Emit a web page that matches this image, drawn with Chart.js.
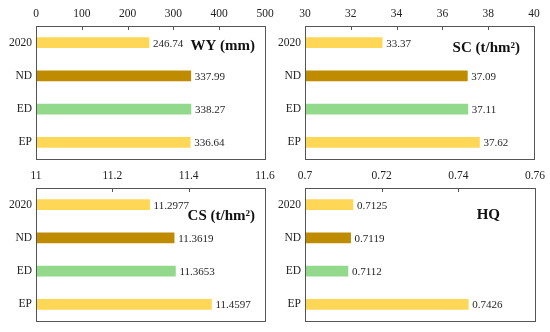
<!DOCTYPE html>
<html>
<head>
<meta charset="utf-8">
<script src="https://cdn.jsdelivr.net/npm/chart.js@4/dist/chart.umd.min.js"></script>
<style>
  html, body { margin: 0; padding: 0; background: #ffffff; }
  #wrap { position: relative; width: 550px; height: 332px; overflow: hidden; background: #fff; }
  canvas { position: absolute; }
</style>
</head>
<body>
<div id="wrap">
  <canvas id="c1" width="275" height="166" style="left:0;top:0"></canvas>
  <canvas id="c2" width="275" height="166" style="left:275px;top:0"></canvas>
  <canvas id="c3" width="275" height="166" style="left:0;top:166px"></canvas>
  <canvas id="c4" width="275" height="166" style="left:275px;top:166px"></canvas>
</div>
<script>
// ---- data ----
const categories = ['2020', 'ND', 'ED', 'EP'];

const wyValues = [246.74, 337.99, 338.27, 336.64];
const scValues = [33.37, 37.09, 37.11, 37.62];
const csValues = [11.2977, 11.3619, 11.3653, 11.4597];
const hqValues = [0.7125, 0.7119, 0.7112, 0.7426];

const wyLabels = ['246.74', '337.99', '338.27', '336.64'];
const scLabels = ['33.37', '37.09', '37.11', '37.62'];
const csLabels = ['11.2977', '11.3619', '11.3653', '11.4597'];
const hqLabels = ['0.7125', '0.7119', '0.7112', '0.7426'];

const wyTicks = ['0', '100', '200', '300', '400', '500'];
const scTicks = ['30', '32', '34', '36', '38', '40'];
const csTicks = ['11', '11.2', '11.4', '11.6'];
const hqTicks = ['0.7', '0.72', '0.74', '0.76'];

const wyTitle = 'WY (mm)';
const scTitle = 'SC (t/hm\u00B2)';
const csTitle = 'CS (t/hm\u00B2)';
const hqTitle = 'HQ';

// ---- styling ----
const barColors = ['#FFD757', '#BF8B00', '#93D98B', '#FFD757'];
const FONT = "'Liberation Serif', 'Times New Roman', serif";
const BORDER = '#555555';

const panelPlugin = {
  id: 'panelDeco',
  afterDraw(chart, args, opts) {
    const ctx = chart.ctx;
    const a = chart.chartArea;
    ctx.save();
    // frame
    ctx.strokeStyle = BORDER;
    ctx.lineWidth = 1;
    ctx.strokeRect(Math.round(a.left) + 0.5, Math.round(a.top) + 0.5,
                   Math.round(a.right - a.left), Math.round(a.bottom - a.top));
    // inner tick marks on top axis
    const xs = chart.scales.x;
    xs.ticks.forEach((t, i) => {
      if (i === 0 || i === xs.ticks.length - 1) return;
      const px = Math.round(xs.getPixelForValue(t.value)) + 0.5;
      ctx.beginPath();
      ctx.moveTo(px, a.top);
      ctx.lineTo(px, a.top + 4);
      ctx.stroke();
    });
    // value labels
    ctx.fillStyle = '#262626';
    ctx.font = '11px ' + FONT;
    ctx.textAlign = 'left';
    ctx.textBaseline = 'middle';
    const meta = chart.getDatasetMeta(0);
    meta.data.forEach((bar, i) => {
      ctx.fillText(opts.labels[i], bar.x + 4, bar.y + 1);
    });
    // panel title
    ctx.fillStyle = '#111111';
    ctx.font = 'bold 15px ' + FONT;
    ctx.textAlign = 'right';
    ctx.fillText(opts.title, a.right - opts.titleDx, a.top + opts.titleDy);
    ctx.restore();
  }
};

function makePanel(id, values, labels, ticks, min, max, step, title, yW, xH, padR, padB, titleDx, titleDy) {
  return new Chart(document.getElementById(id), {
    type: 'bar',
    data: {
      labels: categories,
      datasets: [{
        data: values,
        backgroundColor: barColors,
        borderWidth: 0,
        barThickness: 10
      }]
    },
    options: {
      indexAxis: 'y',
      responsive: false,
      animation: false,
      events: [],
      layout: { padding: { left: 0, top: 0, right: padR, bottom: padB } },
      plugins: {
        legend: { display: false },
        tooltip: { enabled: false },
        panelDeco: { labels: labels, title: title, titleDx: titleDx, titleDy: titleDy }
      },
      scales: {
        x: {
          position: 'top',
          min: min, max: max,
          grid: { display: false, drawTicks: false },
          border: { display: false },
          afterFit(scale) {
            scale.height = xH;
            scale.paddingLeft = 0; scale.paddingRight = 0;
            scale.paddingTop = 0; scale.paddingBottom = 0;
          },
          ticks: {
            stepSize: step,
            padding: 5,
            maxRotation: 0,
            autoSkip: false,
            color: '#222222',
            font: { family: FONT, size: 11.5 },
            callback: (v, i) => ticks[i]
          }
        },
        y: {
          grid: { display: false, drawTicks: false },
          border: { display: false },
          afterFit(scale) {
            scale.width = yW;
            scale.paddingLeft = 0; scale.paddingRight = 0;
            scale.paddingTop = 0; scale.paddingBottom = 0;
          },
          ticks: {
            padding: 4,
            color: '#222222',
            font: { family: FONT, size: 11.5 }
          }
        }
      }
    },
    plugins: [panelPlugin]
  });
}

makePanel('c1', wyValues, wyLabels, wyTicks, 0, 500, 100, wyTitle, 36, 26, 10, 7, 10, 20);
makePanel('c2', scValues, scLabels, scTicks, 30, 40, 2, scTitle, 30, 26, 16, 7, 14, 22);
makePanel('c3', csValues, csLabels, csTicks, 11, 11.6, 0.2, csTitle, 36, 22, 10, 11, 10, 28);
makePanel('c4', hqValues, hqLabels, hqTicks, 0.7, 0.76, 0.02, hqTitle, 30, 22, 15, 11, 35, 27);
</script>
</body>
</html>
